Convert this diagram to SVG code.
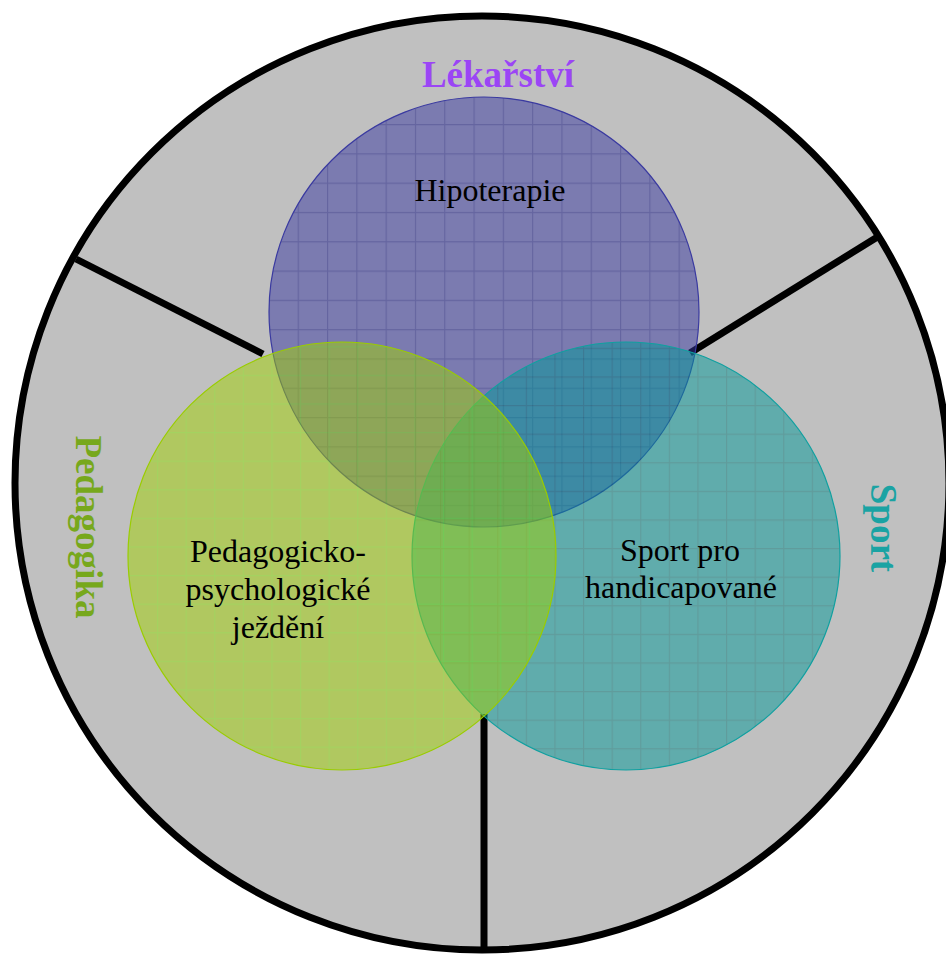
<svg xmlns="http://www.w3.org/2000/svg" width="946" height="955" viewBox="0 0 946 955">
<style>
.divider{stroke:#000;stroke-width:7;fill:none;stroke-linecap:butt}
.inner{font-family:"Liberation Serif","Times New Roman",serif;font-size:32px;fill:#000;text-anchor:middle}
.title{font-family:"Liberation Serif","Times New Roman",serif;font-size:37px;font-weight:bold;text-anchor:middle}
</style>
<defs>
<pattern id="gridP" patternUnits="userSpaceOnUse" x="327" y="124" width="29.3" height="29.3">
<rect width="29.3" height="29.3" fill="#3636a0"/>
<path d="M0 0.5H29.3M0.5 0V29.3" stroke="#0a0a80" stroke-width="1.3" fill="none"/>
</pattern>
<pattern id="gridG" patternUnits="userSpaceOnUse" x="157" y="575" width="28.6" height="28.6">
<rect width="28.6" height="28.6" fill="#a0d000"/>
<path d="M0 0.5H28.6M0.5 0V28.6" stroke="#88e400" stroke-width="1.3" fill="none"/>
</pattern>
<pattern id="gridT" patternUnits="userSpaceOnUse" x="583" y="548" width="28.6" height="28.6">
<rect width="28.6" height="28.6" fill="#009898"/>
<path d="M0 0.5H28.6M0.5 0V28.6" stroke="#007878" stroke-width="1.3" fill="none"/>
</pattern>
</defs>
<g id="background">
<circle cx="482" cy="483" r="467" fill="#c0c0c0" stroke="#000" stroke-width="7"/>
</g>
<g id="connectors">
<line class="divider" x1="76" y1="259" x2="263" y2="354"/>
<line class="divider" x1="879" y1="236" x2="690" y2="353"/>
<line class="divider" x1="484" y1="714" x2="484" y2="953"/>
</g>
<g id="lekarstvi">
<circle cx="484" cy="312" r="215" fill="url(#gridP)" fill-opacity="0.5" stroke="#3a3aa0" stroke-width="1.2"/>
<text class="inner" x="490" y="201">Hipoterapie</text>
</g>
<g id="sport">
<circle cx="626" cy="556" r="214" fill="url(#gridT)" fill-opacity="0.5" stroke="#10a0a0" stroke-width="1.2"/>
<text class="inner" x="680" y="561">Sport pro</text>
<text class="inner" x="681" y="598">handicapované</text>
</g>
<g id="pedagogika">
<circle cx="342" cy="556" r="214" fill="url(#gridG)" fill-opacity="0.5" stroke="#9acc00" stroke-width="1.2"/>
<text class="inner" x="278" y="562">Pedagogicko-</text>
<text class="inner" x="278" y="600">psychologické</text>
<text class="inner" x="278" y="638">ježdění</text>
</g>
<g id="titles">
<text class="title" x="498" y="87" fill="#9b45f5">Lékařství</text>
<text class="title" transform="translate(76 527) rotate(90)" x="0" y="0" fill="#77a81c">Pedagogika</text>
<text class="title" transform="translate(871 528) rotate(90)" x="0" y="0" fill="#1aa3a3">Sport</text>
</g>
</svg>
